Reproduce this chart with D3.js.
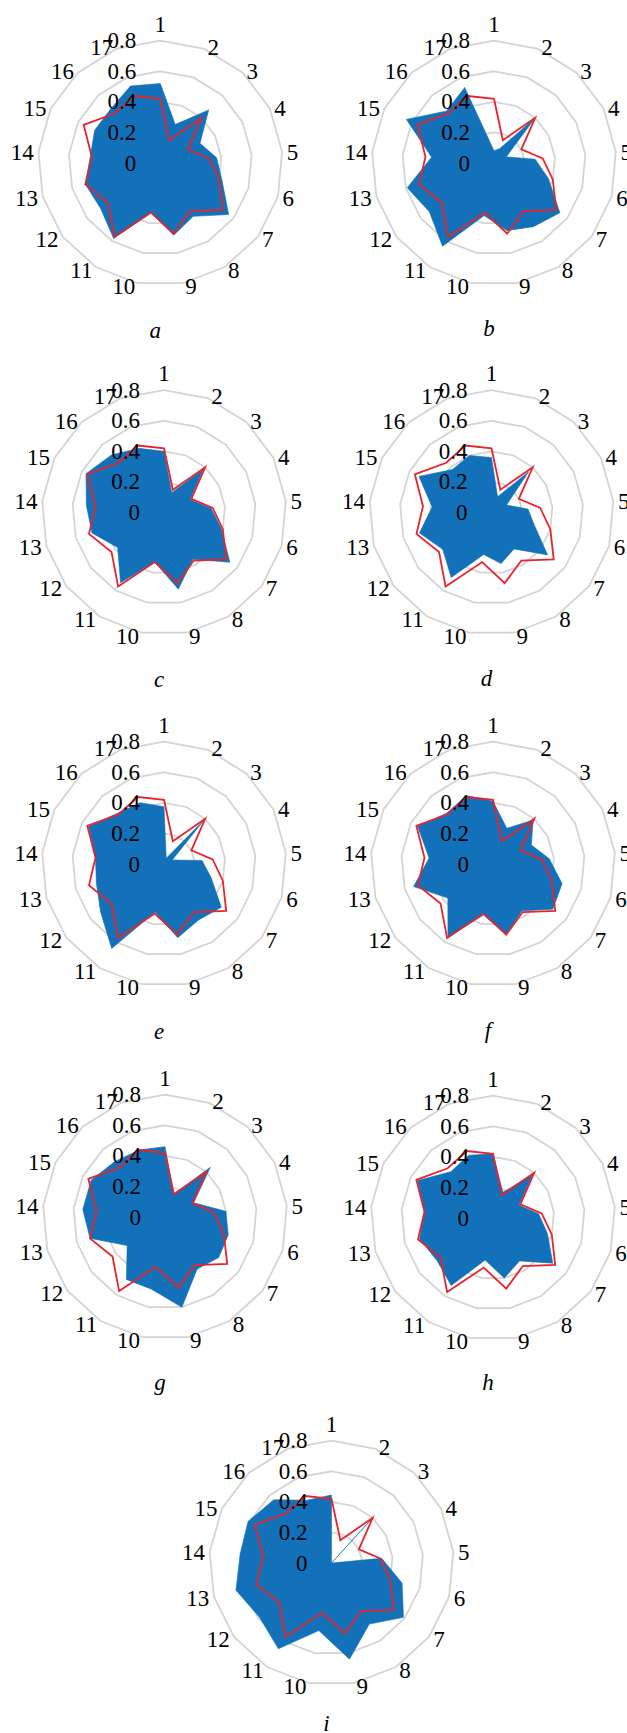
<!DOCTYPE html>
<html>
<head>
<meta charset="utf-8">
<script src="https://cdn.jsdelivr.net/npm/d3@7"></script>
<style>
  html, body { margin: 0; padding: 0; background: #fff; }
  svg { display: block; }
  svg text { font-family: "Liberation Serif", "Times New Roman", Times, "DejaVu Serif", serif; }
</style>
</head>
<body>
<svg id="chart" width="627" height="1733"></svg>
<script>
// ---------------- data ----------------
const categories = ["1","2","3","4","5","6","7","8","9","10","11","12","13","14","15","16","17"];
const radialTicks = [0, 0.2, 0.4, 0.6, 0.8];
const tickLabels = ["0", "0.2", "0.4", "0.6", "0.8"];
const panelNames = ["a","b","c","d","e","f","g","h","i"];

// red reference line (same in every panel)
const redSeries = [0.42, 0.16, 0.40, 0.20, 0.32, 0.40, 0.51, 0.37, 0.47, 0.33, 0.57, 0.43, 0.51, 0.45, 0.56, 0.44, 0.47];

// blue filled series, one per panel
const blueA = [0.52, 0.27, 0.47, 0.29, 0.37, 0.42, 0.56, 0.41, 0.48, 0.33, 0.58, 0.49, 0.51, 0.46, 0.48, 0.48, 0.54];
const blueB = [0.08, 0.10, 0.40, 0.09, 0.27, 0.37, 0.54, 0.49, 0.45, 0.35, 0.64, 0.53, 0.59, 0.41, 0.64, 0.46, 0.53];
const blueC = [0.40, 0.14, 0.38, 0.19, 0.31, 0.39, 0.54, 0.36, 0.51, 0.33, 0.54, 0.38, 0.49, 0.51, 0.57, 0.51, 0.45];
const blueD = [0.36, 0.11, 0.36, 0.11, 0.24, 0.29, 0.46, 0.28, 0.34, 0.28, 0.50, 0.40, 0.49, 0.39, 0.53, 0.38, 0.40];
const blueE = [0.375, 0.04, 0.39, 0.06, 0.25, 0.32, 0.47, 0.43, 0.49, 0.32, 0.65, 0.52, 0.46, 0.45, 0.55, 0.45, 0.43];
const blueF = [0.41, 0.25, 0.39, 0.28, 0.37, 0.47, 0.49, 0.36, 0.47, 0.34, 0.56, 0.37, 0.54, 0.42, 0.55, 0.45, 0.48];
const blueG = [0.46, 0.16, 0.44, 0.21, 0.40, 0.43, 0.44, 0.40, 0.60, 0.48, 0.48, 0.31, 0.51, 0.54, 0.54, 0.49, 0.47];
const blueH = [0.42, 0.18, 0.385, 0.19, 0.30, 0.37, 0.49, 0.33, 0.40, 0.28, 0.52, 0.46, 0.50, 0.45, 0.55, 0.41, 0.44];
const blueI = [0.445, 0, 0.39, 0, 0.33, 0.48, 0.59, 0.47, 0.64, 0.45, 0.66, 0.59, 0.65, 0.60, 0.61, 0.56, 0.44];
const blueSeries = [blueA, blueB, blueC, blueD, blueE, blueF, blueG, blueH, blueI];

// ---------------- layout ----------------
const centers = [
  [160.3, 163], [494, 163],
  [164, 512.5], [491.5, 512.5],
  [164, 864], [493, 864],
  [165, 1217], [493, 1218],
  [331.5, 1563]
];
const panelLabelDy = [167, 165, 167, 166, 167, 166, 165, 164, 160];
const R = 122.3;
const FS = 23;
const BLUE = "#1271b9";
const RED = "#e8232b";
const GRID = "#d4d4d4";

const svg = d3.select("#chart");
const rScale = d3.scaleLinear().domain([0, 0.8]).range([0, R]);
const aScale = d3.scaleLinear().domain([0, categories.length]).range([0, 2 * Math.PI]);

const radial = d3.lineRadial()
  .angle((d, i) => aScale(i))
  .radius(d => rScale(d))
  .curve(d3.curveLinearClosed);

panelNames.forEach((name, p) => {
  const [cx, cy] = centers[p];
  const g = svg.append("g").attr("transform", `translate(${cx},${cy})`);

  // grid rings
  g.append("g").selectAll("path")
    .data(radialTicks.filter(t => t > 0))
    .join("path")
    .attr("d", t => radial(categories.map(() => t)))
    .attr("fill", "none")
    .attr("stroke", GRID)
    .attr("stroke-width", 1.8);

  // blue filled area
  g.append("path")
    .attr("d", radial(blueSeries[p]))
    .attr("fill", BLUE)
    .attr("stroke", BLUE)
    .attr("stroke-width", 0.6)
    .attr("stroke-linejoin", "miter");

  // red line
  g.append("path")
    .attr("d", radial(redSeries))
    .attr("fill", "none")
    .attr("stroke", RED)
    .attr("stroke-width", 1.8)
    .attr("stroke-linejoin", "miter");

  // value axis labels
  g.append("g").selectAll("text")
    .data(radialTicks)
    .join("text")
    .attr("x", -24)
    .attr("y", t => -rScale(t))
    .attr("text-anchor", "end")
    .attr("dominant-baseline", "central")
    .attr("font-size", FS)
    .attr("fill", "#000")
    .text((t, i) => tickLabels[i]);

  // category labels
  const cl = g.append("g").selectAll("text")
    .data(categories)
    .join("text")
    .attr("text-anchor", "middle")
    .attr("dominant-baseline", "central")
    .attr("font-size", FS)
    .attr("fill", "#000")
    .text(d => d);
  cl.each(function(d, i) {
    const a = aScale(i);
    const s = Math.sin(a), c = Math.cos(a);
    const w = this.getComputedTextLength();
    const labR = R + 2.7;
    let x = labR * s, y = -labR * c + 1;
    if (Math.abs(s) < 0.01) {
      y = -labR * c - 14 * Math.sign(c);
    } else {
      x += Math.sign(s) * (w / 2 + 2);
    }
    d3.select(this).attr("x", x).attr("y", y);
  });

  // panel label
  g.append("text")
    .attr("x", -5)
    .attr("y", panelLabelDy[p])
    .attr("text-anchor", "middle")
    .attr("dominant-baseline", "central")
    .attr("font-style", "italic")
    .attr("font-size", FS)
    .attr("fill", "#000")
    .text(name);
});
</script>
</body>
</html>
